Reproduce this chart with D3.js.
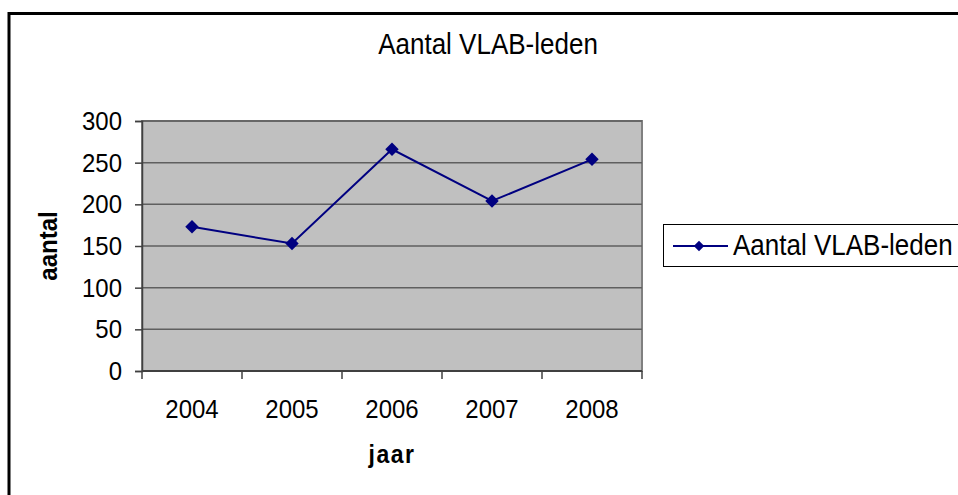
<!DOCTYPE html>
<html>
<head>
<meta charset="utf-8">
<script src="https://cdn.jsdelivr.net/npm/d3@7"></script>
<style>
  body { margin: 0; background: #fff; }
  svg { display: block; font-family: "Liberation Sans", Arial, sans-serif; }
</style>
</head>
<body>
<svg width="958" height="495"></svg>
<script>
// chart data
const years = ["2004", "2005", "2006", "2007", "2008"];
const members = [173, 153, 266, 204, 254];
const yTicks = [0, 50, 100, 150, 200, 250, 300];
const seriesName = "Aantal VLAB-leden";

const svg = d3.select("svg");
const plot = {left: 142, top: 121, right: 642, bottom: 371};
const stretch = 1.1; // reference text looks a bit taller than wide

// text helper, stretched vertically around its baseline
function label(g, tx, ty, str, size, anchor) {
  return g.append("text")
    .attr("transform", `translate(${tx},${ty}) scale(1,${stretch})`)
    .attr("text-anchor", anchor || "start")
    .attr("font-size", size).attr("fill", "#000").text(str);
}

// outer chart border (only top/left visible, the rest runs off the image)
svg.append("rect").attr("x", 9).attr("y", 13.5).attr("width", 1000).attr("height", 1000)
  .attr("fill", "none").attr("stroke", "#000").attr("stroke-width", 3);

const x = d3.scaleBand().domain(years).range([plot.left, plot.right]);
const y = d3.scaleLinear().domain([0, 300]).range([plot.bottom, plot.top]);

// plot background
svg.append("rect").attr("x", plot.left).attr("y", plot.top)
  .attr("width", plot.right - plot.left).attr("height", plot.bottom - plot.top)
  .attr("fill", "#c0c0c0").attr("stroke", "#808080").attr("stroke-width", 2);

// gridlines
svg.append("g").selectAll("line").data(yTicks.slice(1)).join("line")
  .attr("x1", plot.left).attr("x2", plot.right)
  .attr("y1", d => y(d)).attr("y2", d => y(d))
  .attr("stroke", "#5f5f5f").attr("stroke-width", 1.5);

// y axis
const yAxis = svg.append("g").attr("transform", `translate(${plot.left},0)`)
  .call(d3.axisLeft(y).tickValues(yTicks).tickSize(7).tickFormat(""));
yAxis.select(".domain").attr("stroke", "#404040").attr("stroke-width", 1.5);
yAxis.selectAll(".tick line").attr("stroke", "#404040").attr("stroke-width", 1.5);
yTicks.forEach(v => label(svg, 122, y(v) + 9, v, 24, "end"));

// x axis: ticks on band edges, labels centered
const xAxisG = svg.append("g").attr("transform", `translate(0,${plot.bottom})`);
xAxisG.append("line").attr("x1", plot.left).attr("x2", plot.right)
  .attr("stroke", "#404040").attr("stroke-width", 2);
const edges = years.map(d => x(d)).concat([x(years[years.length - 1]) + x.bandwidth()]);
xAxisG.selectAll(".edge").data(edges).join("line")
  .attr("x1", d => d).attr("x2", d => d).attr("y1", 0).attr("y2", 8)
  .attr("stroke", "#404040").attr("stroke-width", 1.5);
years.forEach(d => label(xAxisG, x(d) + x.bandwidth() / 2, 47, d, 24, "middle"));

// line + markers
const pts = years.map((d, i) => [x(d) + x.bandwidth() / 2, y(members[i])]);
svg.append("path").datum(pts).attr("d", d3.line())
  .attr("fill", "none").attr("stroke", "#000080").attr("stroke-width", 2);
const diamond = d3.symbol().type(d3.symbolDiamond2).size(115);
svg.append("g").selectAll("path").data(pts).join("path")
  .attr("transform", d => `translate(${d[0]},${d[1]})`)
  .attr("d", diamond).attr("fill", "#000080");

// titles
label(svg, 488, 54, seriesName, 26, "middle");
label(svg, 392, 463, "jaar", 23, "middle").attr("font-weight", "bold").attr("letter-spacing", 1.5);
svg.append("text").attr("transform", `translate(57,246) rotate(-90) scale(1,${stretch})`)
  .attr("text-anchor", "middle").attr("font-size", 24).attr("font-weight", "bold").text("aantal");

// legend
const lg = svg.append("g");
lg.append("rect").attr("x", 663.5).attr("y", 224.5).attr("width", 300).attr("height", 42)
  .attr("fill", "#fff").attr("stroke", "#000").attr("stroke-width", 1);
lg.append("line").attr("x1", 673).attr("x2", 728).attr("y1", 246).attr("y2", 246)
  .attr("stroke", "#000080").attr("stroke-width", 2);
lg.append("path").attr("transform", "translate(699,246)")
  .attr("d", d3.symbol().type(d3.symbolDiamond2).size(70)).attr("fill", "#000080");
label(lg, 733, 255, seriesName, 26);
</script>
</body>
</html>
